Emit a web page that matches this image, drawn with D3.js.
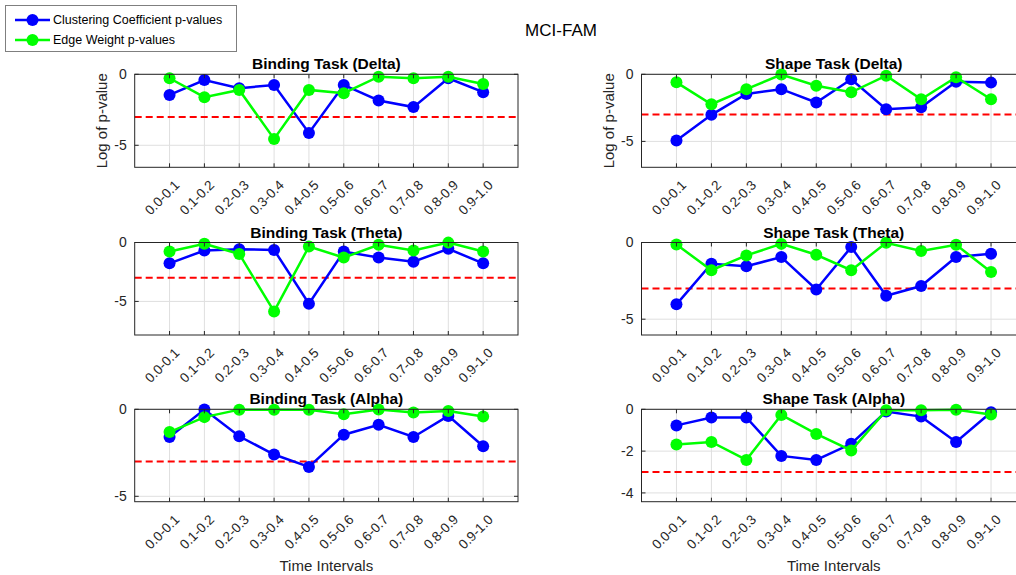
<!DOCTYPE html>
<html><head><meta charset="utf-8">
<script src="https://cdn.jsdelivr.net/npm/d3@7"></script>
<style>body{margin:0;background:#fff;} text{font-family:"Liberation Sans",Arial,sans-serif;}</style>
</head><body>
<svg id="c" width="1016" height="575"></svg>
<script>
const intervals = ["0.0-0.1","0.1-0.2","0.2-0.3","0.3-0.4","0.4-0.5","0.5-0.6","0.6-0.7","0.7-0.8","0.8-0.9","0.9-1.0"];
const titles = ["Binding Task (Delta)","Shape Task (Delta)","Binding Task (Theta)","Shape Task (Theta)","Binding Task (Alpha)","Shape Task (Alpha)"];
const seriesNames = ["Clustering Coefficient p-values","Edge Weight p-values"];
const threshold = -3;
// Clustering coefficient (blue)
const ccBindingDelta = [-1.45,-0.40,-0.98,-0.75,-4.13,-0.75,-1.84,-2.31,-0.28,-1.26];
const ccShapeDelta   = [-4.93,-3.02,-1.46,-1.11,-2.10,-0.37,-2.60,-2.45,-0.55,-0.62];
const ccBindingTheta = [-1.77,-0.68,-0.57,-0.63,-5.20,-0.77,-1.28,-1.63,-0.54,-1.77];
const ccShapeTheta   = [-4.03,-1.38,-1.55,-0.95,-3.06,-0.30,-3.47,-2.84,-0.95,-0.73];
const ccBindingAlpha = [-1.59,-0.01,-1.55,-2.60,-3.31,-1.46,-0.89,-1.59,-0.38,-2.12];
const ccShapeAlpha   = [-0.77,-0.39,-0.39,-2.23,-2.42,-1.65,-0.11,-0.35,-1.56,-0.14];
// Edge weight (green)
const ewBindingDelta = [-0.28,-1.61,-1.10,-4.55,-1.10,-1.33,-0.17,-0.28,-0.17,-0.68];
const ewShapeDelta   = [-0.60,-2.23,-1.11,-0.02,-0.85,-1.34,-0.10,-1.86,-0.22,-1.86];
const ewBindingTheta = [-0.77,-0.11,-0.97,-5.85,-0.34,-1.28,-0.20,-0.68,-0.01,-0.77];
const ewShapeTheta   = [-0.13,-1.81,-0.84,-0.09,-0.80,-1.81,-0.02,-0.56,-0.15,-1.92];
const ewBindingAlpha = [-1.31,-0.45,-0.02,-0.02,-0.02,-0.28,-0.01,-0.19,-0.10,-0.42];
const ewShapeAlpha   = [-1.68,-1.56,-2.42,-0.27,-1.18,-1.97,-0.05,-0.05,-0.02,-0.25];
const yTicksList = [[-5,0],[-5,0],[-5,0],[-5,0],[-5,0],[-4,-2,0]];

const ccAll = [ccBindingDelta,ccShapeDelta,ccBindingTheta,ccShapeTheta,ccBindingAlpha,ccShapeAlpha];
const ewAll = [ewBindingDelta,ewShapeDelta,ewBindingTheta,ewShapeTheta,ewBindingAlpha,ewShapeAlpha];

const svg = d3.select("#c");
const axisColor = "#262626";
const colX = [[134.7,518],[641.5,1026]];
const rowY = [[74.3,167.3],[242.5,335],[409.3,501.7]];
const colors = ["#0000ff","#00ff00"];

titles.forEach((t,i)=>{
  const col = i%2, row = Math.floor(i/2);
  const [x0,x1] = colX[col], [y0,y1] = rowY[row];
  const cc = ccAll[i], ew = ewAll[i];
  const ymin = d3.min(cc.concat(ew)) - 2;
  const x = d3.scaleLinear().domain([0,11]).range([x0,x1]);
  const y = d3.scaleLinear().domain([ymin,0]).range([y1,y0]);
  const g = svg.append("g");
  const clipId = "clip"+i;
  g.append("clipPath").attr("id",clipId).append("rect").attr("x",x0).attr("y",y0-8).attr("width",x1-x0).attr("height",y1-y0+8);
  const xt = d3.range(1,11);
  g.selectAll(".gx").data(xt).join("line").attr("x1",d=>x(d)).attr("x2",d=>x(d)).attr("y1",y0).attr("y2",y1).attr("stroke","#dfdfdf").attr("stroke-width",1);
  g.selectAll(".gy").data(yTicksList[i]).join("line").attr("x1",x0).attr("x2",x1).attr("y1",d=>y(d)).attr("y2",d=>y(d)).attr("stroke","#dfdfdf").attr("stroke-width",1);
  g.append("line").attr("x1",x0).attr("x2",x1).attr("y1",y(threshold)).attr("y2",y(threshold))
    .attr("stroke","#ff0000").attr("stroke-width",2).attr("stroke-dasharray","7,4");
  const line = d3.line().x((d,j)=>x(j+1)).y(d=>y(d));
  const pg = g.append("g").attr("clip-path",`url(#${clipId})`);
  [cc,ew].forEach((s,k)=>{
    pg.append("path").datum(s).attr("d",line).attr("fill","none").attr("stroke",colors[k]).attr("stroke-width",2.5);
    pg.selectAll(".m"+k).data(s).join("circle").attr("cx",(d,j)=>x(j+1)).attr("cy",d=>y(d)).attr("r",6).attr("fill",colors[k]);
  });
  g.append("rect").attr("x",x0).attr("y",y0).attr("width",x1-x0).attr("height",y1-y0).attr("fill","none").attr("stroke",axisColor).attr("stroke-width",1);
  xt.forEach(d=>{
    g.append("line").attr("x1",x(d)).attr("x2",x(d)).attr("y1",y1).attr("y2",y1-4).attr("stroke",axisColor);
    g.append("line").attr("x1",x(d)).attr("x2",x(d)).attr("y1",y0).attr("y2",y0+4).attr("stroke",axisColor);
  });
  yTicksList[i].forEach(d=>{
    g.append("line").attr("x1",x0).attr("x2",x0+4).attr("y1",y(d)).attr("y2",y(d)).attr("stroke",axisColor);
    g.append("line").attr("x1",x1).attr("x2",x1-4).attr("y1",y(d)).attr("y2",y(d)).attr("stroke",axisColor);
    g.append("text").attr("x",x0-8).attr("y",y(d)).attr("dy","0.35em").attr("text-anchor","end")
      .attr("font-size",14).attr("fill",axisColor).text(String(d));
  });
  xt.forEach((d,j)=>{
    g.append("text").attr("transform",`translate(${x(d)+4},${y1+12}) rotate(-45)`)
      .attr("text-anchor","end").attr("dy","0.7em").attr("font-size",13.5).attr("fill",axisColor).text(intervals[j]);
  });
  g.append("text").attr("x",(x0+x1)/2).attr("y",y0-5).attr("text-anchor","middle")
    .attr("font-size",15.5).attr("font-weight","bold").attr("fill","#000").text(t);
  if(row===0){
    g.append("text").attr("transform",`translate(${x0-28},${(y0+y1)/2}) rotate(-90)`).attr("text-anchor","middle")
      .attr("font-size",15).attr("fill",axisColor).text("Log of p-value");
  }
  if(row===2){
    g.append("text").attr("x",(x0+x1)/2).attr("y",571).attr("text-anchor","middle")
      .attr("font-size",15).attr("fill",axisColor).text("Time Intervals");
  }
});

svg.append("text").attr("x",561).attr("y",36).attr("text-anchor","middle").attr("font-size",17).attr("fill","#000").text("MCI-FAM");

const lg = svg.append("g");
lg.append("rect").attr("x",5.5).attr("y",5.5).attr("width",231).attr("height",46).attr("fill","#fff").attr("stroke","#7f7f7f").attr("stroke-width",1);
seriesNames.forEach((n,k)=>{
  const yy = 20 + k*20;
  lg.append("line").attr("x1",15).attr("x2",50).attr("y1",yy).attr("y2",yy).attr("stroke",colors[k]).attr("stroke-width",2.5);
  lg.append("circle").attr("cx",32.5).attr("cy",yy).attr("r",6).attr("fill",colors[k]);
  lg.append("text").attr("x",53).attr("y",yy).attr("dy","0.35em").attr("font-size",12.5).attr("fill","#000").text(n);
});
</script>
</body></html>
